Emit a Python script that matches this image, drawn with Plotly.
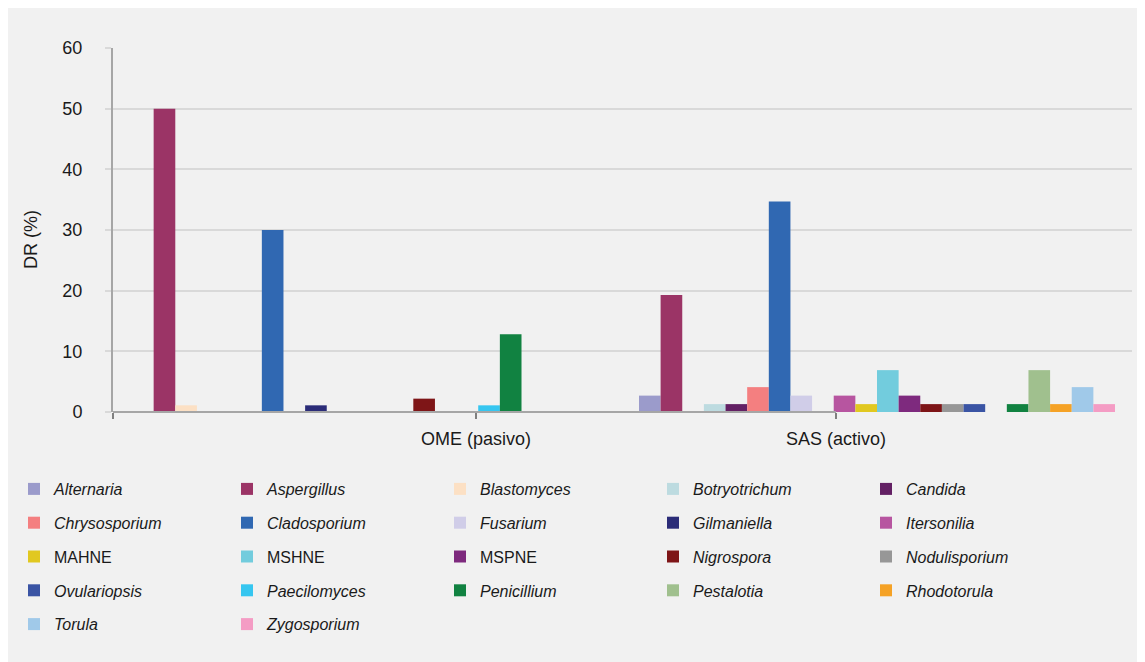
import plotly.graph_objects as go

# ---------------- data ----------------
groups = ["OME (pasivo)", "SAS (activo)"]
genera = ["Alternaria", "Aspergillus", "Blastomyces", "Botryotrichum", "Candida",
          "Chrysosporium", "Cladosporium", "Fusarium", "Gilmaniella", "Itersonilia",
          "MAHNE", "MSHNE", "MSPNE", "Nigrospora", "Nodulisporium",
          "Ovulariopsis", "Paecilomyces", "Penicillium", "Pestalotia", "Rhodotorula",
          "Torula", "Zygosporium"]
ome_values = [0, 50.0, 1.1, 0, 0,
              0, 30.0, 0, 1.1, 0,
              0, 0, 0, 2.2, 0,
              0, 1.1, 12.8, 0, 0,
              0, 0]
sas_values = [2.7, 19.3, 0, 1.3, 1.3,
              4.1, 34.7, 2.7, 0, 2.7,
              1.3, 6.9, 2.7, 1.3, 1.3,
              1.3, 0, 1.3, 6.9, 1.3,
              4.1, 1.3]
colors = ["#9B9BCB", "#9B3466", "#FCE0C4", "#BDDBE0", "#632064",
          "#F47F80", "#3068B2", "#D0CDE8", "#2B2C78", "#B755A0",
          "#E1C820", "#72CCDD", "#7E2A7E", "#7E1517", "#979797",
          "#3A54A4", "#36C6F0", "#118241", "#A0C08E", "#F5A226",
          "#A0C9E9", "#F49CC4"]
upright = {"MAHNE", "MSHNE", "MSPNE"}
y_ticks = [0, 10, 20, 30, 40, 50, 60]

# ---------------- layout geometry (page pixels) ----------------
W, H = 1145, 662
OFF = 8                       # page offset of the figure
L, R, T, B = 105, 21, 40, 258
PW = W - L - R
PH = H - T - B
X_RANGE = [-0.507, 1.503]
FONT = "Liberation Sans, Arial, Helvetica, sans-serif"
TXT = "#1A1A1A"

def px_x(p):
    return (p - OFF - L) / PW

def px_y(p):
    return (H - B - (p - OFF)) / PH

def data_x(p):
    return X_RANGE[0] + px_x(p) * (X_RANGE[1] - X_RANGE[0])

legend_keys = ["legend", "legend2", "legend3", "legend4", "legend5"]

fig = go.Figure()
positions = list(range(len(groups)))
for i, g in enumerate(genera):
    label = g if g in upright else f"<i>{g}</i>"
    fig.add_trace(go.Bar(
        x=positions, y=[ome_values[i], sas_values[i]],
        name=label, marker=dict(color=colors[i], line=dict(width=0)),
        legend=legend_keys[i % 5], legendgroup=g,
        hovertemplate=g + ": %{y}<extra></extra>",
    ))

legend_layout = {}
for k, key in enumerate(legend_keys):
    legend_layout[key] = dict(
        x=px_x(14 + 213 * k), y=px_y(472), xanchor="left", yanchor="top",
        orientation="v", tracegroupgap=10, bgcolor="rgba(0,0,0,0)",
        font=dict(family=FONT, size=16, color=TXT),
    )

fig.update_layout(
    width=W, height=H,
    margin=dict(l=L, r=R, t=T, b=B, autoexpand=False),
    paper_bgcolor="#F1F1F1", plot_bgcolor="#F1F1F1",
    font=dict(family=FONT, size=18, color=TXT),
    barmode="group", bargap=0.061, bargroupgap=0,
    xaxis=dict(range=X_RANGE, fixedrange=True,
               tickmode="array",
               tickvals=[data_x(113), data_x(476), data_x(836)],
               ticktext=[""] + groups,
               showline=False, showgrid=False, zeroline=False,
               ticks="outside", ticklen=6, tickwidth=1.5, tickcolor="#7F7F7F",
               ticklabelstandoff=4,
               tickfont=dict(family=FONT, size=18, color=TXT)),
    yaxis=dict(range=[0, 60], tickmode="array", tickvals=y_ticks,
               showline=True, linecolor="#A6A6A6", linewidth=2,
               ticks="outside", ticklen=6, tickwidth=2, tickcolor="#D9D9D9",
               showgrid=True, gridcolor="#D9D9D9", gridwidth=2,
               zeroline=False, ticklabelstandoff=19,
               tickfont=dict(family=FONT, size=18, color=TXT)),
    annotations=[dict(text="DR (%)", x=px_x(31), y=px_y(240), xref="paper", yref="paper",
                      textangle=-90, showarrow=False, xanchor="center", yanchor="middle",
                      font=dict(family=FONT, size=18, color=TXT))],
    shapes=[
        # category axis line, which in the reference stops at the last category tick
        dict(type="line", xref="paper", yref="paper", layer="above",
             x0=px_x(113), x1=px_x(836), y0=0, y1=0,
             line=dict(color="#A6A6A6", width=2)),
    ],
    **legend_layout,
)

fig.write_html("out.html")
